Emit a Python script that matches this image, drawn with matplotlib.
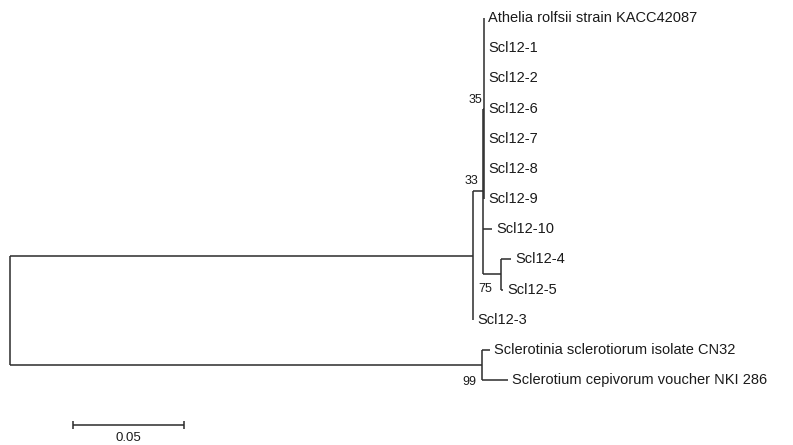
import matplotlib
matplotlib.use("Agg")
import matplotlib.pyplot as plt

# ---------------- data ----------------
leaf_names = [
    "Athelia rolfsii strain KACC42087", "Scl12-1", "Scl12-2", "Scl12-6", "Scl12-7",
    "Scl12-8", "Scl12-9", "Scl12-10", "Scl12-4", "Scl12-5", "Scl12-3",
    "Sclerotinia sclerotiorum isolate CN32", "Sclerotium cepivorum voucher NKI 286",
]
leaf_parent = ["n35"] * 7 + ["nA", "n75", "n75", "n33", "n99", "n99"]
leaf_length = [0, 0, 0, 0, 0, 0, 0, 0.0041, 0.0045, 0.0009, 0.0, 0.0036, 0.0117]

node_names = ["root", "n33", "nA", "n35", "n75", "n99"]
node_parent = [None, "root", "n33", "nA", "nA", "root"]
node_length = [0.0, 0.2086, 0.0045, 0.0005, 0.0081, 0.2126]
node_support = [None, None, 33, 35, 75, 99]
support_below = [False, False, False, False, True, True]

scale_length = 0.05
scale_label = "0.05"

# ---------------- layout ----------------
W, H = 793, 445
PX_PER_UNIT = 2220.0
X0_PX = 10
ROW0_PX = 18
ROW_PX = 30.17

fig = plt.figure(figsize=(W / 100, H / 100), dpi=100)
ax = fig.add_axes([0, 0, 1, 1])
ax.set_xlim(-X0_PX / PX_PER_UNIT, (W - X0_PX) / PX_PER_UNIT)
ax.set_ylim((H - ROW0_PX) / ROW_PX, -ROW0_PX / ROW_PX)
ax.axis("off")

plt.rcParams["font.family"] = ["Liberation Sans", "DejaVu Sans"]
line_kw = dict(color="#2b2b2b", lw=1.1, solid_capstyle="butt")

# compute x positions
xpos = {}
for name, par, ln in zip(node_names, node_parent, node_length):
    xpos[name] = (xpos[par] if par else 0.0) + ln
children = {n: [] for n in node_names}
for name, par in zip(node_names, node_parent):
    if par:
        children[par].append(name)
for i, (name, par, ln) in enumerate(zip(leaf_names, leaf_parent, leaf_length)):
    key = ("leaf", i)
    xpos[key] = xpos[par] + ln
    children[par].append(key)

ypos = {("leaf", i): float(i) for i in range(len(leaf_names))}

def get_y(n):
    if n in ypos:
        return ypos[n]
    ys = [get_y(c) for c in children[n]]
    ypos[n] = (min(ys) + max(ys)) / 2
    return ypos[n]

get_y("root")

# draw branches
for n in node_names:
    ys = [ypos[c] for c in children[n]]
    ax.plot([xpos[n], xpos[n]], [min(ys), max(ys)], **line_kw)
    for c in children[n]:
        ax.plot([xpos[n], xpos[c]], [ypos[c], ypos[c]], **line_kw)

# leaf labels
for i, name in enumerate(leaf_names):
    key = ("leaf", i)
    ax.annotate(name, (xpos[key], ypos[key]), xytext=(4, 0),
                textcoords="offset pixels", ha="left", va="center",
                fontsize=10.5, color="#1a1a1a")

# bootstrap values
offsets = {"nA": (-5, 10), "n35": (-2, 9), "n75": (-9, -15), "n99": (-6, -17)}
for n, s in zip(node_names, node_support):
    if s is None:
        continue
    ax.annotate(str(s), (xpos[n], ypos[n]), xytext=offsets[n],
                textcoords="offset pixels", ha="right", va="center",
                fontsize=9, color="#1a1a1a")

# scale bar
sx0 = (73 - X0_PX) / PX_PER_UNIT
sy = (425 - ROW0_PX) / ROW_PX
tick = 4 / ROW_PX
ax.plot([sx0, sx0 + scale_length], [sy, sy], **line_kw)
ax.plot([sx0, sx0], [sy - tick, sy + tick], **line_kw)
ax.plot([sx0 + scale_length] * 2, [sy - tick, sy + tick], **line_kw)
ax.annotate(scale_label, (sx0 + scale_length / 2, sy), xytext=(0, -13),
            textcoords="offset pixels", ha="center", va="center",
            fontsize=9.5, color="#1a1a1a")

fig.savefig("out.png", dpi=100)
